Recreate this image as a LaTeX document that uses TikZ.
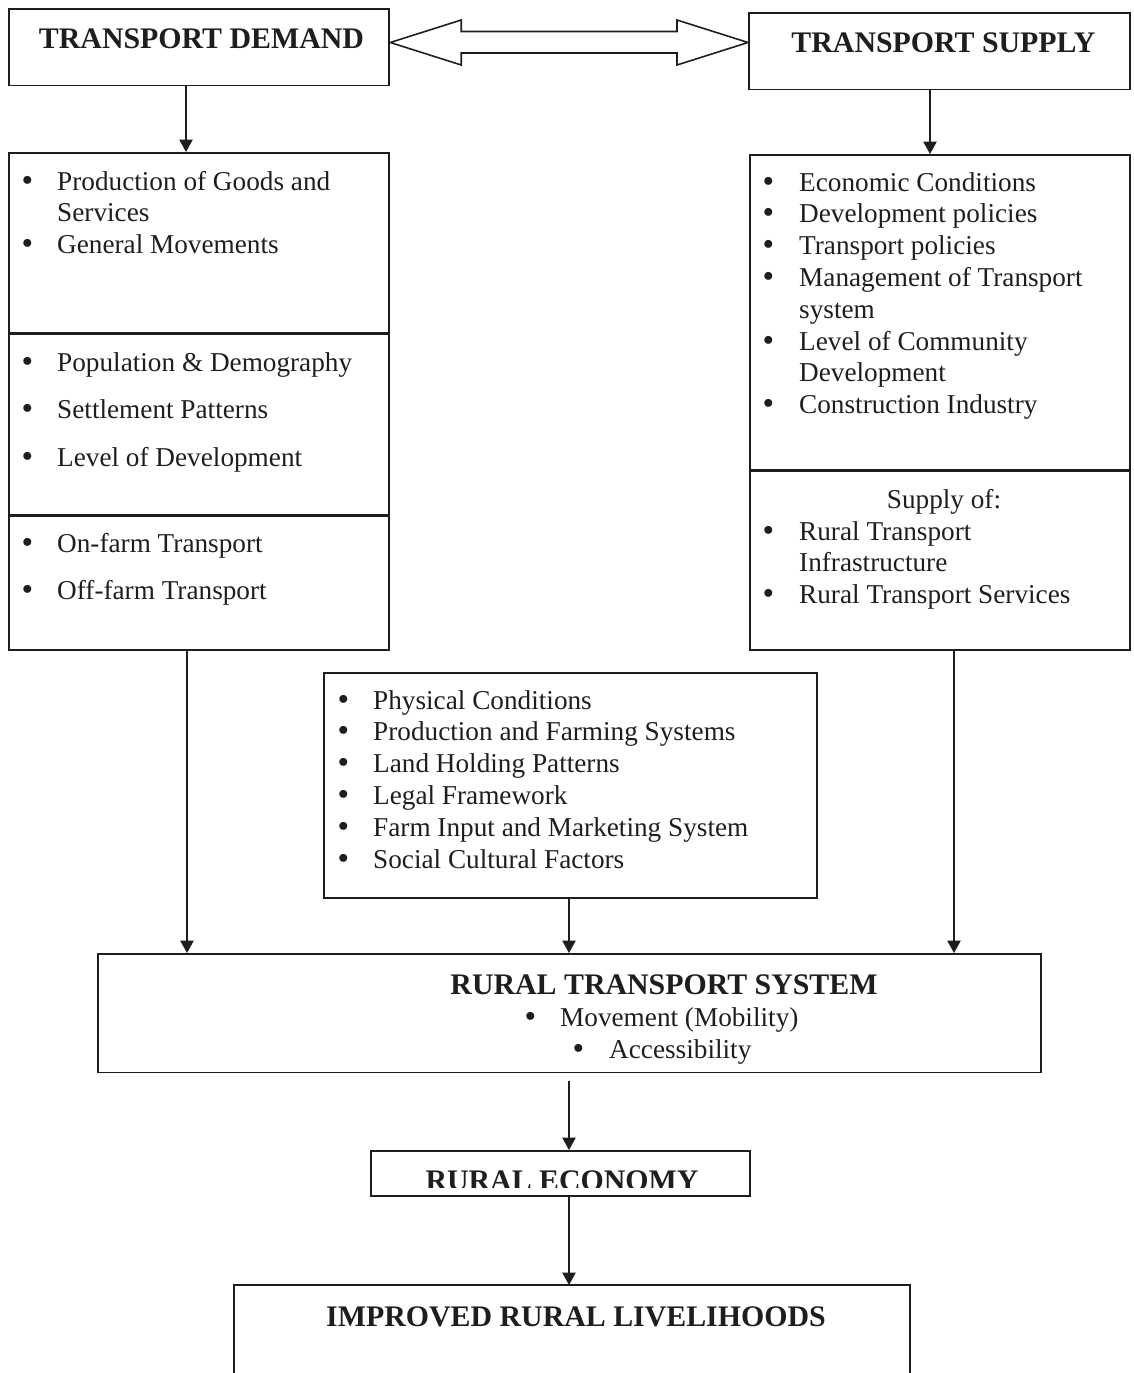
\documentclass[tikz,border=0pt]{standalone}
\usepackage{fontspec}
\setmainfont{Liberation Serif}
\newfontfamily\bulfont{DejaVu Sans}
\usetikzlibrary{arrows.meta,calc}

% one drawing unit
\newdimen\px \px=0.5669pt
\definecolor{ink}{RGB}{30,30,30}

\newcommand\lstfont{\fontsize{15.5}{18.1}\selectfont}
\newcommand\hdfont{\fontsize{17}{20}\selectfont\bfseries}
% list bullet, a little heavier than the serif one
\newcommand\bu{{\bulfont\textbullet}}
% bulleted list: bullet column, then the item text
\newcommand\blist[2][38]{\begin{tabular}[t]{@{}p{#1\px}@{}l@{}}#2\end{tabular}}

\begin{document}
\begin{tikzpicture}[x=0.02cm, y=-0.02cm,
  box/.style={draw=ink, line width=1pt, rectangle, inner sep=0pt, anchor=north west},
  edge/.style={draw=ink, line width=1pt},
  arr/.style={draw=ink, line width=0.8pt, -{Triangle[width=7.5pt,length=7pt]}},
  dbl/.style={draw=ink, line width=0.9pt, line join=miter},
  lst/.style={inner sep=0pt, anchor=base west, text=ink, font=\lstfont},
  hd/.style={inner sep=0pt, anchor=base, text=ink, font=\hdfont},
  plain/.style={inner sep=0pt, anchor=base, text=ink, font=\lstfont}]
\useasboundingbox (0,0) rectangle (1133,1373);

% ---- frames ----
\node[box, minimum width=382\px, minimum height=77\px]  (dem)  at (8,8) {};
\node[box, minimum width=383\px, minimum height=77\px]  (sup)  at (748,12) {};
\node[box, minimum width=382\px, minimum height=181\px] (l1)   at (8,152) {};
\node[box, minimum width=382\px, minimum height=182\px] (l2)   at (8,333) {};
\node[box, minimum width=382\px, minimum height=135\px] (l3)   at (8,515) {};
\node[box, minimum width=382\px, minimum height=316\px] (r1)   at (749,154) {};
\node[box, minimum width=382\px, minimum height=180\px] (r2)   at (749,470) {};
\node[box, minimum width=495\px, minimum height=226\px] (mid)  at (323,672) {};
\node[box, minimum width=947\px, minimum height=119\px] (rts)  at (97,953) {};
\node[box, minimum width=381\px, minimum height=45\px]  (econ) at (370,1150) {};
\node[box, draw=none, minimum width=677\px, minimum height=88\px] (ilh) at (234,1285) {};
\draw[edge] (ilh.south west) -- (ilh.north west) -- (ilh.north east) -- (ilh.south east);

% ---- headings ----
\node[hd] (demt) at (201.5,48) {TRANSPORT DEMAND};
\node[hd] (supt) at (943.5,52) {TRANSPORT SUPPLY};
\node[hd] (rtst) at (664,994) {RURAL TRANSPORT SYSTEM};
\node[hd] (ilht) at (576,1326) {IMPROVED RURAL LIVELIHOODS};
\begin{scope}
  \clip (econ.north west) rectangle ($(econ.north east)+(0,37)$);
  \node[hd] (econt) at (562,1190) {RURAL ECONOMY};
\end{scope}

% ---- demand side lists ----
\node[lst] (l1t) at (19,190) {\blist{%
  \bu & Production of Goods and\\
      & Services\\
  \bu & General Movements}};
\node[lst] (l2t) at (19,371) {\renewcommand\arraystretch{1.5}\blist{%
  \bu & Population \& Demography\\
  \bu & Settlement Patterns\\
  \bu & Level of Development}};
\node[lst] (l3t) at (19,552) {\renewcommand\arraystretch{1.48}\blist{%
  \bu & On-farm Transport\\
  \bu & Off-farm Transport}};

% ---- supply side lists ----
\node[lst] (r1t) at (760,191) {\blist[39]{%
  \bu & Economic Conditions\\
  \bu & Development policies\\
  \bu & Transport policies\\
  \bu & Management of Transport\\
      & system\\
  \bu & Level of Community\\
      & Development\\
  \bu & Construction Industry}};
\node[plain] (r2h) at (944,508) {Supply of:};
\node[lst] (r2t) at (760,540) {\blist[39]{%
  \bu & Rural Transport\\
      & Infrastructure\\
  \bu & Rural Transport Services}};

% ---- local factors ----
\node[lst] (midt) at (335,709) {\blist{%
  \bu & Physical Conditions\\
  \bu & Production and Farming Systems\\
  \bu & Land Holding Patterns\\
  \bu & Legal Framework\\
  \bu & Farm Input and Marketing System\\
  \bu & Social Cultural Factors}};

% ---- transport system items ----
\node[lst] (rts1) at (522,1026) {\blist{\bu & Movement (Mobility)}};
\node[lst] (rts2) at (570,1058) {\blist[39]{\bu & Accessibility}};

% ---- two-way link between demand and supply ----
\coordinate (tl) at (dem.east |- 0,42.5);
\coordinate (tr) at (sup.west |- 0,42.5);
\draw[dbl] (tl) -- ($(tl)+(71,-22.5)$) -- ($(tl)+(71,-11)$) -- ($(tr)+(-71,-11)$)
  -- ($(tr)+(-71,-22.5)$) -- (tr) -- ($(tr)+(-71,22.5)$) -- ($(tr)+(-71,10.5)$)
  -- ($(tl)+(71,10.5)$) -- ($(tl)+(71,22.5)$) -- cycle;

% ---- flow arrows ----
\draw[arr] (dem.south -| 186,0) -- (l1.north -| 186,0);
\draw[arr] (sup.south -| 930,0) -- (r1.north -| 930,0);
\draw[arr] (l3.south -| 187,0) -- (rts.north -| 187,0);
\draw[arr] (mid.south -| 569,0) -- (rts.north -| 569,0);
\draw[arr] (r2.south -| 954,0) -- (rts.north -| 954,0);
\draw[arr, shorten <=8\px] (rts.south -| 569,0) -- (econ.north -| 569,0);
\draw[arr] (econ.south -| 569,0) -- (ilh.north -| 569,0);
\end{tikzpicture}
\end{document}
